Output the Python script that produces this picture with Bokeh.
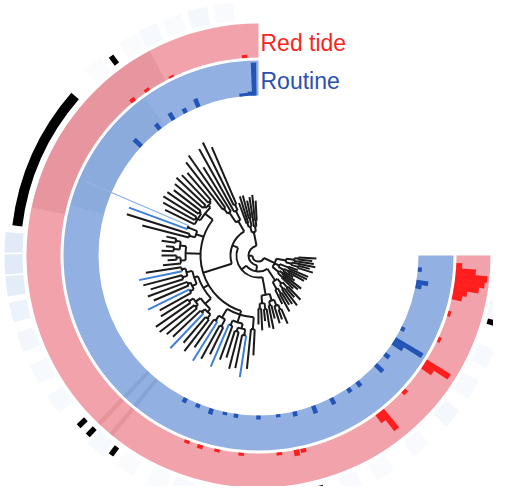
import math
from bokeh.plotting import figure
from bokeh.models import ColumnDataSource, Range1d, Label
from bokeh.embed import file_html
from bokeh.resources import INLINE

# ---------------- data ----------------
# tree clades (Newick, branch lengths in radial units); B = blue tip, L = light-blue tip
G1 = "(((:20,:26):6,:30):5,((:18,:24):8,(:28,:22):4):6):14"
G2 = "(((:62,:70):6,:72):10,(:52,(:64,:60):6):12):12"
G3 = "(((:36,:38):2,(:40,:37):2):3,((:34,:38):2,(:39,:36):2,:33):3):10"
G4 = "((L:112,B:62):10,(:66,:48):6):8"
G5 = "(((:10,:14):5,(:8,:12):6):6,((:15,:9):4,:18):5):15"
G6 = "((((:36,B:44):4,(:40,:34):5):6,((:42,:38):3,(B:46,:36):4):5):4,(((:32,:42):5,(:44,:40):3):6,((:38,B:48):4,(:34,:40):5):4):8):6"
G7 = "(((:34,B:46):6,(:38,:30):8):10,((B:46,:36):5,((:28,:38):4,(:34,B:42):6):5):8,(:40,:26):12):4"
G8 = "(((:16,:22):5,(:12,:19):6):8,((:24,:14):4,(:18,(:10,:16):5):6):7):18"
G9 = "((:16,(:20,:14):6):8,((:18,:22):5,(:12,:18):7):6):14"
RIGHT = "(((:16,:20):6,(:24,:14):4):8,((:12,(:18,:20):5):6,(:22,:10):9):5,(((:16,:12):7,:24):6,(:20,(:14,:18):4):8):10):12"
C5 = "(" + ",".join([G3, G4, G5, G6, G7]) + "):30"
C4 = "(" + G2 + "," + C5 + "):6"
C3 = "(" + C4 + "," + G8 + "):6"
C2 = "(" + C3 + "," + G9 + "):6"
CORE = "(" + G1 + "," + C2 + "):4"
TREE = "(" + CORE + "," + RIGHT + ");"
ROOT_R = 6
LEAF_START, LEAF_END = 93, 357

# rings
RING_START, RING_END = 90, 360
ROUTINE_R = (160, 195)
REDTIDE_R = (198, 232)

# bars (angle in degrees, length in radial units)
ROUTINE_ANGLE = [91.5, 93, 94.5, 96, 112, 117, 122, 128, 137, 243, 248, 253, 258, 262, 270, 277, 283, 290, 297, 304, 308, 317, 322, 327, 328.5, 333, 349, 350.5, 355]
ROUTINE_LEN = [33, 4, 3, 3, 9, 5, 8, 7, 10, 5, 4, 6, 3, 4, 4, 3, 5, 8, 7, 5, 6, 10, 6, 12, 32, 4, 6, 12, 4]
RED_ANGLE = [94, 116, 124, 129, 249, 253, 258, 265, 276, 281, 283, 307, 308.5, 317, 326, 327.5, 335, 343, 348, 349.5, 351, 352.5, 354, 355.5, 357]
RED_LEN = [3, 2, 3, 4, 3, 4, 3, 3, 3, 6, 4, 10, 24, 4, 12, 28, 3, 3, 10, 14, 25, 30, 32, 20, 6]

# outer black annotation marks
BLACK_ANGLE = [156, 126.5, 223.5, 226.5, 233.5, 275, 285, 344, 353.5]
BLACK_SPAN = [34, 1.3, 1.3, 1.3, 1.3, 1.3, 1.3, 1.3, 1.3]

# faint outer heat cells
FAINT_ANGLE = [98, 104, 110, 116, 121, 131, 177, 182, 187, 193, 200, 208, 216, 230, 238, 246, 252, 262, 268, 292, 300, 310, 320, 328, 336, 347, 357]
FAINT_ALPHA = [0.12, 0.18, 0.1, 0.15, 0.1, 0.08, 0.5, 0.5, 0.45, 0.3, 0.2, 0.15, 0.15, 0.15, 0.1, 0.1, 0.15, 0.1, 0.1, 0.12, 0.1, 0.12, 0.18, 0.15, 0.15, 0.18, 0.25]

# darker shading bands in rings
SHADE_START = [118, 226, 230, 226, 230, 126]
SHADE_END = [168, 227.2, 231.2, 227.2, 231.2, 165]
SHADE_RING = ["red", "red", "red", "blue", "blue", "blue"]
SHADE_ALPHA = [0.12, 0.15, 0.15, 0.12, 0.12, 0.05]

# ---------------- tree parsing / layout ----------------
def parse(s):
    pos = 0
    def node():
        nonlocal pos
        children = []
        if s[pos] == '(':
            pos += 1
            while True:
                children.append(node())
                if s[pos] == ',':
                    pos += 1
                    continue
                if s[pos] == ')':
                    pos += 1
                    break
        label = ''
        while pos < len(s) and s[pos] not in ':,();':
            label += s[pos]
            pos += 1
        length = 0.0
        if pos < len(s) and s[pos] == ':':
            pos += 1
            num = ''
            while pos < len(s) and s[pos] not in ',();':
                num += s[pos]
                pos += 1
            length = float(num)
        return {"children": children, "label": label, "len": length}
    return node()

root = parse(TREE)
leaves = []
def collect(n):
    if not n["children"]:
        leaves.append(n)
    for c in n["children"]:
        collect(c)
collect(root)
nl = len(leaves)
for i, lf in enumerate(leaves):
    lf["ang"] = LEAF_START + i * (LEAF_END - LEAF_START) / (nl - 1)

def layout(n, r):
    n["r"] = r
    for c in n["children"]:
        layout(c, r + c["len"])
    if n["children"]:
        n["ang"] = (n["children"][0]["ang"] + n["children"][-1]["ang"]) / 2
layout(root, ROOT_R)

TREE_COLORS = {"": "#1a1a1a", "B": "#3f7fd6", "L": "#8fb6ea"}
seg = dict(x0=[], y0=[], x1=[], y1=[], c=[], w=[])
arc = dict(r=[], a0=[], a1=[])
def walk(n):
    for c in n["children"]:
        a = math.radians(c["ang"])
        seg["x0"].append(n["r"] * math.cos(a)); seg["y0"].append(n["r"] * math.sin(a))
        seg["x1"].append(c["r"] * math.cos(a)); seg["y1"].append(c["r"] * math.sin(a))
        seg["c"].append(TREE_COLORS[c["label"]])
        seg["w"].append(1.2 if c["label"] == "L" else 2.0)
        walk(c)
    if n["children"]:
        arc["r"].append(n["r"])
        arc["a0"].append(math.radians(n["children"][0]["ang"]))
        arc["a1"].append(math.radians(n["children"][-1]["ang"]))
walk(root)

# ---------------- figure ----------------
p = figure(width=493, height=486, output_backend="svg", toolbar_location=None,
           x_range=Range1d(-258, 235), y_range=Range1d(-231, 255), min_border=0)
p.axis.visible = False
p.grid.visible = False
p.outline_line_color = None
p.background_fill_color = "white"

rad = math.radians

# faint outer cells
p.annular_wedge(x=0, y=0, inner_radius=236, outer_radius=254,
                start_angle=[rad(a - 2.3) for a in FAINT_ANGLE], end_angle=[rad(a + 2.3) for a in FAINT_ANGLE],
                color="#c2d8ef", alpha=FAINT_ALPHA, line_color=None)

# rings
p.annular_wedge(x=0, y=0, inner_radius=REDTIDE_R[0], outer_radius=REDTIDE_R[1],
                start_angle=rad(RING_START), end_angle=rad(RING_END), direction="anticlock",
                color="#f2a2aa", line_color=None)
p.annular_wedge(x=0, y=0, inner_radius=ROUTINE_R[0], outer_radius=ROUTINE_R[1],
                start_angle=rad(RING_START), end_angle=rad(RING_END), direction="anticlock",
                color="#92b0e2", line_color=None)

# shading
for s, e, ring, al in zip(SHADE_START, SHADE_END, SHADE_RING, SHADE_ALPHA):
    ri = REDTIDE_R if ring == "red" else ROUTINE_R
    col = "#a04050" if ring == "red" else "#304880"
    p.annular_wedge(x=0, y=0, inner_radius=ri[0], outer_radius=ri[1],
                    start_angle=rad(s), end_angle=rad(e), color=col, alpha=al, line_color=None)

# bars
bw = 0.8
p.annular_wedge(x=0, y=0, inner_radius=ROUTINE_R[0],
                outer_radius=[ROUTINE_R[0] + v for v in ROUTINE_LEN],
                start_angle=[rad(a - bw) for a in ROUTINE_ANGLE], end_angle=[rad(a + bw) for a in ROUTINE_ANGLE],
                color="#2454b5", line_color=None)
p.annular_wedge(x=0, y=0, inner_radius=REDTIDE_R[0],
                outer_radius=[REDTIDE_R[0] + v for v in RED_LEN],
                start_angle=[rad(a - bw) for a in RED_ANGLE], end_angle=[rad(a + bw) for a in RED_ANGLE],
                color="#ff1e1e", line_color=None)

# black marks
p.annular_wedge(x=0, y=0, inner_radius=238, outer_radius=248,
                start_angle=[rad(a - s / 2) for a, s in zip(BLACK_ANGLE, BLACK_SPAN)],
                end_angle=[rad(a + s / 2) for a, s in zip(BLACK_ANGLE, BLACK_SPAN)],
                color="black", line_color=None)

# tree
p.arc(x=0, y=0, radius="r", start_angle="a0", end_angle="a1", direction="anticlock",
      line_color="#1a1a1a", line_width=2.0, source=ColumnDataSource(arc))
p.segment(x0="x0", y0="y0", x1="x1", y1="y1", line_color="c", line_width="w",
          source=ColumnDataSource(seg))

# legend texts
p.add_layout(Label(x=2, y=213, text="Red tide", text_color="#f5281e", text_font="Liberation Sans",
                   text_font_size="23px", text_baseline="alphabetic"))
p.add_layout(Label(x=2, y=174.2, text="Routine", text_color="#2b50b0", text_font="Liberation Sans",
                   text_font_size="23px", text_baseline="alphabetic"))

open("out.html", "w").write(file_html(p, INLINE))
